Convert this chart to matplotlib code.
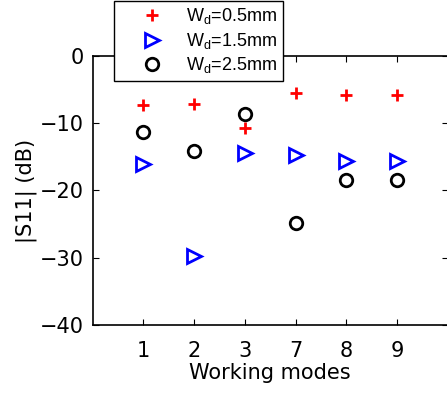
import matplotlib
matplotlib.use("Agg")
import matplotlib.pyplot as plt

plt.rcParams['font.family'] = ['DejaVu Sans']
plt.rcParams['mathtext.fontset'] = 'custom'
plt.rcParams['mathtext.rm'] = 'Liberation Sans'
plt.rcParams['mathtext.it'] = 'Liberation Sans'

modes = ['1', '2', '3', '7', '8', '9']
wd05 = [-7.3, -7.2, -10.7, -5.5, -5.8, -5.8]
wd15 = [-16.0, -29.7, -14.5, -14.7, -15.6, -15.6]
wd25 = [-11.3, -14.2, -8.6, -24.8, -18.4, -18.4]
labels = [r'W$_{\rm d}$=0.5mm', r'W$_{\rm d}$=1.5mm', r'W$_{\rm d}$=2.5mm']

fig = plt.figure(figsize=(4.47, 3.96), dpi=100)
ax = fig.add_axes([0.207, 0.179, 0.795, 0.680])
x = list(range(1, len(modes) + 1))
ax.plot(x, wd05, linestyle='none', marker='+', color='red', markersize=9, markeredgewidth=2, label=labels[0])
ax.plot(x, wd15, linestyle='none', marker='>', color='blue', markerfacecolor='none', markersize=10, markeredgewidth=2, label=labels[1])
ax.plot(x, wd25, linestyle='none', marker='o', color='black', markerfacecolor='none', markersize=9, markeredgewidth=2, label=labels[2])

ax.set_xlim(0, 7)
ax.set_ylim(-40, 0)
ax.set_xticks(x)
ax.set_xticklabels(modes)
ax.set_yticks([-40, -30, -20, -10, 0])
ax.set_yticklabels(['\u221240', '\u221230', '\u221220', '\u221210', '0'])
ax.tick_params(direction='in', top=True, right=True, labelsize=15, length=4, width=0.8)
ax.tick_params(axis='x', pad=11.5)
ax.tick_params(axis='y', pad=6)
for s in ax.spines.values():
    s.set_linewidth(1.2)
ax.set_xlabel('Working modes', fontsize=15, labelpad=1.5)
ax.set_ylabel('|S11| (dB)', fontsize=15, labelpad=2)

leg = fig.legend(loc='upper left', bbox_to_anchor=(114/447, 1 - 1/396), bbox_transform=fig.transFigure,
                 borderaxespad=0, fancybox=False, framealpha=1, edgecolor='black',
                 prop={'family': 'Liberation Sans', 'size': 13},
                 handlelength=3.6, labelspacing=0.25, borderpad=0.3, handletextpad=0.1)
leg.get_frame().set_linewidth(1.0)
fig.savefig('out.png', dpi=100)
